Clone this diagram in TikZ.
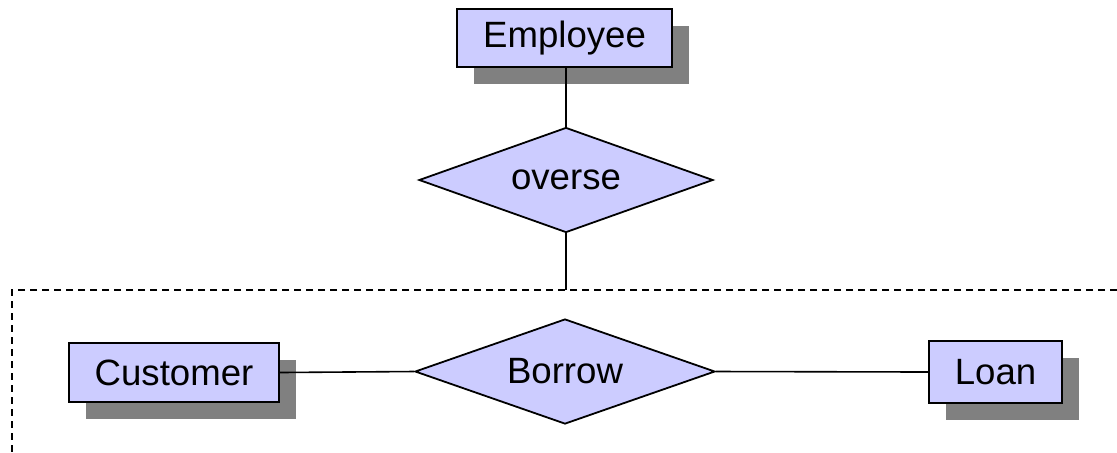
\documentclass[tikz,border=0pt]{standalone}
\usepackage{fontspec}
\setmainfont{Liberation Sans}
\usetikzlibrary{shapes.geometric,shadows}
\definecolor{boxfill}{HTML}{CCCCFF}
\definecolor{shadowgray}{HTML}{808080}
\tikzset{
  entity/.style={draw=black, line width=1pt, fill=boxfill, inner sep=0pt,
    font=\fontsize{18.3}{21}\selectfont,
    drop shadow={shadow xshift=8.5pt, shadow yshift=-8.5pt, fill=shadowgray, opacity=1}},
  relation/.style={draw=black, line width=0.9pt, fill=boxfill, diamond, inner sep=0pt,
    aspect=2.8, font=\fontsize{18.3}{21}\selectfont},
  link/.style={draw=black, line width=0.8pt},
  boundary/.style={draw=black, line width=0.9pt, dash pattern=on 3.5pt off 2.5pt}
}
\begin{document}
\begin{tikzpicture}[x=0.5pt, y=-0.5pt]
  \useasboundingbox (0,0) rectangle (1117,452);
  % dashed aggregation boundary
  \coordinate (dR) at (1117,290);
  \coordinate (dC) at (12,290);
  \coordinate (dB) at (12,452);
  \coordinate (jn) at (566,290);
  \draw[boundary] (dR) -- (dC) -- (dB);
  % nodes
  \node[entity, minimum width=107.5pt, minimum height=29pt] (emp) at (564.5,38) {Employee};
  \node[relation, minimum width=147pt, minimum height=52.5pt] (ov) at (566,180) {overse};
  \node[relation, minimum width=150pt, minimum height=52.5pt] (bor) at (565,371.5) {Borrow};
  \node[entity, minimum width=105pt, minimum height=29.5pt] (cust) at (174,372.5) {Customer};
  \node[entity, minimum width=66.5pt, minimum height=31pt] (loan) at (995.5,372) {Loan};
  % connectors
  \draw[link] (ov.north) -- (ov.north |- emp.south);
  \draw[link] (ov.south) -- (jn);
  \draw[link] (cust.east) -- (bor.west);
  \draw[link] (bor.east) -- (loan.west);
\end{tikzpicture}
\end{document}
